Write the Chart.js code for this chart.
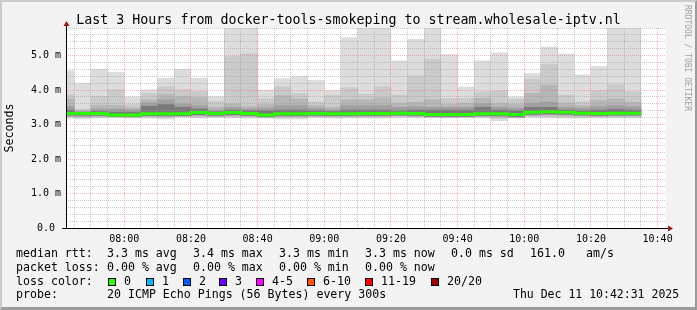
<!DOCTYPE html>
<html>
<head>
<meta charset="utf-8">
<script src="https://cdn.jsdelivr.net/npm/chart.js@4.4.1/dist/chart.umd.min.js"></script>
<style>
  html, body { margin: 0; padding: 0; background: #f3f3f3; }
  #wrap { position: relative; width: 697px; height: 310px; background: #f3f3f3; overflow: hidden;
          font-family: "DejaVu Sans Mono", monospace; color: #000; }
  #smoke { position: absolute; left: 0; top: 0; }
  .t { position: absolute; white-space: pre; line-height: 1; font-size: 11.6px; }
  .title { left: 0; width: 697px; text-align: center; top: 13px; font-size: 13.3px; }
  .box { position: absolute; top: 278px; width: 6px; height: 6px; border: 1px solid #000; }
  .mark { position: absolute; left: 683px; top: 5px; font-size: 8px; line-height: 1; color: #a0a0a0;
          writing-mode: vertical-rl; white-space: pre; }
  .frame { position: absolute; left: 0; top: 0; width: 697px; height: 310px; box-sizing: border-box;
           border-style: solid; border-width: 2px 2px 3px 2px;
           border-color: #cbcbcb #9c9c9c #9c9c9c #cbcbcb; pointer-events: none; }
</style>
</head>
<body>
<div id="wrap">
  <canvas id="smoke" width="697" height="310"></canvas>
  <div class="t title">Last 3 Hours from docker-tools-smokeping to stream.wholesale-iptv.nl</div>
  <div class="mark">RRDTOOL / TOBI OETIKER</div>

  <div class="t" style="left:16px;top:248px">median rtt:</div>
  <div class="t" style="left:107px;top:248px">3.3 ms avg</div>
  <div class="t" style="left:193px;top:248px">3.4 ms max</div>
  <div class="t" style="left:279px;top:248px">3.3 ms min</div>
  <div class="t" style="left:365px;top:248px">3.3 ms now</div>
  <div class="t" style="left:451px;top:248px">0.0 ms sd</div>
  <div class="t" style="left:530px;top:248px">161.0</div>
  <div class="t" style="left:586px;top:248px">am/s</div>

  <div class="t" style="left:16px;top:262px">packet loss:</div>
  <div class="t" style="left:107px;top:262px">0.00 % avg</div>
  <div class="t" style="left:193px;top:262px">0.00 % max</div>
  <div class="t" style="left:279px;top:262px">0.00 % min</div>
  <div class="t" style="left:365px;top:262px">0.00 % now</div>

  <div class="t" style="left:16px;top:276px">loss color:</div>
  <div id="lossRow"></div>

  <div class="t" style="left:16px;top:289px">probe:</div>
  <div class="t" style="left:107px;top:289px">20 ICMP Echo Pings (56 Bytes) every 300s</div>
  <div class="t" style="left:513px;top:289px;font-size:11.5px">Thu Dec 11 10:42:31 2025</div>

  <div class="frame"></div>
</div>
<script>
// 5 minute slots (start time of each interval)
const slots = ["07:40", "07:45", "07:50", "07:55", "08:00", "08:05", "08:10", "08:15", "08:20", "08:25",
  "08:30", "08:35", "08:40", "08:45", "08:50", "08:55", "09:00", "09:05", "09:10", "09:15",
  "09:20", "09:25", "09:30", "09:35", "09:40", "09:45", "09:50", "09:55", "10:00", "10:05",
  "10:10", "10:15", "10:20", "10:25", "10:30"];

// smoke bands, ms (outer band = min..max ping, inner bands closer to the median)
const maxPing = [4.56, 4.19, 4.60, 4.51, 3.80, 4.01, 4.34, 4.60, 4.34, 3.81, 6.30, 6.25, 4.00, 4.33, 4.39, 4.28, 3.99, 5.52,
  6.10, 6.40, 4.85, 5.47, 6.20, 5.03, 4.09, 4.85, 5.08, 3.80, 4.48, 5.25, 5.05, 4.44, 4.68, 6.15, 6.35];
const minPing = [3.19, 3.16, 3.19, 3.21, 3.19, 3.19, 3.16, 3.22, 3.19, 3.21, 3.19, 3.19, 3.19, 3.16, 3.16, 3.21, 3.19, 3.19,
  3.19, 3.19, 3.21, 3.21, 3.21, 3.19, 3.21, 3.19, 3.11, 3.19, 3.21, 3.19, 3.19, 3.19, 3.21, 3.21, 3.19];
const hi2 = [3.87, 3.45, 3.82, 4.01, 3.58, 3.90, 4.10, 4.01, 3.96, 3.67, 4.98, 5.06, 3.75, 4.10, 3.90, 3.66, 3.84, 4.07,
  3.88, 4.10, 3.86, 4.41, 4.89, 3.76, 3.76, 3.95, 3.98, 3.74, 4.32, 4.75, 3.86, 3.66, 3.98, 4.15, 3.95];
const lo2 = [3.22, 3.21, 3.22, 3.22, 3.21, 3.22, 3.21, 3.23, 3.22, 3.22, 3.22, 3.22, 3.21, 3.21, 3.21, 3.22, 3.22, 3.22,
  3.22, 3.22, 3.23, 3.23, 3.22, 3.21, 3.22, 3.22, 3.17, 3.21, 3.23, 3.23, 3.22, 3.22, 3.22, 3.22, 3.22];
const hi3 = [3.75, 3.41, 3.55, 3.55, 3.48, 3.72, 3.87, 3.82, 3.78, 3.50, 3.60, 3.52, 3.58, 3.84, 3.74, 3.55, 3.50, 3.72,
  3.72, 3.77, 3.62, 3.65, 3.72, 3.58, 3.62, 3.76, 3.61, 3.58, 3.90, 4.14, 3.62, 3.55, 3.70, 3.75, 3.65];
const lo3 = [3.24, 3.23, 3.24, 3.23, 3.22, 3.24, 3.23, 3.24, 3.25, 3.24, 3.25, 3.24, 3.22, 3.23, 3.23, 3.24, 3.24, 3.24,
  3.24, 3.24, 3.25, 3.24, 3.22, 3.22, 3.22, 3.24, 3.22, 3.21, 3.26, 3.27, 3.26, 3.25, 3.24, 3.24, 3.25];
const hi4 = [3.53, 3.38, 3.45, 3.45, 3.42, 3.63, 3.72, 3.60, 3.55, 3.42, 3.50, 3.45, 3.48, 3.55, 3.55, 3.47, 3.43, 3.55,
  3.55, 3.55, 3.50, 3.52, 3.50, 3.50, 3.50, 3.60, 3.50, 3.48, 3.62, 3.65, 3.50, 3.48, 3.52, 3.55, 3.52];
const lo4 = [3.25, 3.24, 3.25, 3.23, 3.23, 3.25, 3.24, 3.25, 3.27, 3.25, 3.27, 3.25, 3.22, 3.24, 3.24, 3.25, 3.25, 3.25,
  3.25, 3.25, 3.26, 3.25, 3.23, 3.23, 3.23, 3.25, 3.24, 3.22, 3.28, 3.29, 3.28, 3.26, 3.25, 3.26, 3.26];
const hi5 = [3.42, 3.35, 3.38, 3.36, 3.36, 3.53, 3.58, 3.50, 3.45, 3.37, 3.42, 3.40, 3.40, 3.42, 3.42, 3.40, 3.38, 3.42,
  3.42, 3.42, 3.40, 3.42, 3.42, 3.42, 3.42, 3.50, 3.42, 3.40, 3.50, 3.50, 3.42, 3.40, 3.42, 3.44, 3.42];
const lo5 = [3.27, 3.27, 3.27, 3.24, 3.24, 3.26, 3.26, 3.26, 3.29, 3.27, 3.29, 3.27, 3.23, 3.26, 3.26, 3.27, 3.26, 3.26,
  3.27, 3.27, 3.28, 3.27, 3.24, 3.24, 3.24, 3.26, 3.26, 3.23, 3.30, 3.31, 3.30, 3.28, 3.27, 3.28, 3.28];
const median = [3.32, 3.32, 3.32, 3.28, 3.28, 3.31, 3.31, 3.31, 3.35, 3.32, 3.35, 3.32, 3.28, 3.31, 3.31, 3.32, 3.31, 3.31,
  3.32, 3.32, 3.33, 3.32, 3.29, 3.29, 3.29, 3.31, 3.31, 3.29, 3.36, 3.37, 3.36, 3.33, 3.32, 3.33, 3.33];

// loss legend
const lossLabels = ["0", "1", "2", "3", "4-5", "6-10", "11-19", "20/20"];
const lossColors = ["#26ff00", "#00b8ff", "#0059ff", "#6a00ff", "#ff00ff", "#ff5500", "#ff0000", "#a10000"];
const lossX = [108, 146, 183, 219, 256, 307, 365, 431];

// window: last 3 hours up to 10:42:31
const viewStart = "07:42:31";
const viewEnd = "10:42:31";

const mins = s => { const p = s.split(":").map(Number); return p[0] * 60 + p[1] + (p[2] || 0) / 60; };
const hhmm = v => String(Math.floor(v / 60)).padStart(2, "0") + ":" + String(Math.round(v % 60)).padStart(2, "0");

const row = document.getElementById("lossRow");
lossLabels.forEach((lab, i) => {
  const b = document.createElement("div");
  b.className = "box";
  b.style.left = lossX[i] + "px";
  b.style.background = lossColors[i];
  row.appendChild(b);
  const t = document.createElement("div");
  t.className = "t";
  t.style.left = (lossX[i] + 16) + "px";
  t.style.top = "276px";
  t.textContent = lab;
  row.appendChild(t);
});

const MONO = "'DejaVu Sans Mono', monospace";
const bandColors = ["#dddddd", "#cacaca", "#b6b6b6", "#a0a0a0", "#7a7a7a"];
const bands = [[minPing, maxPing], [lo2, hi2], [lo3, hi3], [lo4, hi4], [lo5, hi5]];

const datasets = [{
  type: "line",
  data: slots.map((s, j) => ({ x: mins(s), y: median[j] }))
    .concat([{ x: mins(slots[slots.length - 1]) + 5, y: median[median.length - 1] }]),
  borderColor: lossColors[0],
  borderWidth: 3,
  pointRadius: 0,
  stepped: true,
  fill: false,
  borderCapStyle: "butt",
  order: 0,
  clip: 0
}];
bands.forEach(([lo, hi], i) => {
  datasets.push({
    type: "bar",
    data: slots.map((s, j) => ({ x: mins(s) + 2.5, y: [lo[j], hi[j]] })),
    backgroundColor: bandColors[i],
    borderWidth: 0,
    grouped: false,
    barPercentage: 1,
    categoryPercentage: 1,
    order: 10 - i,
    clip: 0
  });
});

const isMajor = (v, step) => Math.abs(v / step - Math.round(v / step)) < 1e-6;
const gridMajor = "rgba(255,80,80,0.42)";
const gridMinor = "rgba(150,150,150,0.5)";

const plotFrame = {
  id: "plotFrame",
  beforeDraw(chart) {
    const { ctx, chartArea: a } = chart;
    ctx.save();
    ctx.fillStyle = "#ffffff";
    ctx.fillRect(a.left, a.top, a.right - a.left, a.bottom - a.top);
    ctx.restore();
  },
  afterDraw(chart) {
    const { ctx, chartArea: a } = chart;
    ctx.save();
    ctx.strokeStyle = "#000";
    ctx.lineWidth = 1;
    ctx.beginPath();
    ctx.moveTo(a.left - 4, a.bottom + 0.5);
    ctx.lineTo(a.right + 3, a.bottom + 0.5);
    ctx.moveTo(a.left + 0.5, a.bottom + 1);
    ctx.lineTo(a.left + 0.5, a.top - 2);
    ctx.stroke();
    ctx.fillStyle = "#9b1c1c";
    ctx.beginPath();
    ctx.moveTo(a.left + 0.5, a.top - 7);
    ctx.lineTo(a.left - 2.5, a.top - 2);
    ctx.lineTo(a.left + 3.5, a.top - 2);
    ctx.closePath();
    ctx.fill();
    ctx.beginPath();
    ctx.moveTo(a.right + 7, a.bottom + 0.5);
    ctx.lineTo(a.right + 2, a.bottom - 2.5);
    ctx.lineTo(a.right + 2, a.bottom + 3.5);
    ctx.closePath();
    ctx.fill();
    ctx.restore();
  }
};

new Chart(document.getElementById("smoke").getContext("2d"), {
  type: "bar",
  data: { datasets },
  plugins: [plotFrame],
  options: {
    responsive: false,
    animation: false,
    events: [],
    layout: { padding: { top: 28, right: 31, left: 0, bottom: 0 } },
    plugins: { legend: { display: false }, tooltip: { enabled: false } },
    scales: {
      x: {
        type: "linear",
        min: mins(viewStart),
        max: mins(viewEnd),
        offset: false,
        afterFit: s => { s.height = 82; },
        afterBuildTicks: s => {
          const t = [];
          for (let v = Math.ceil(s.min / 5) * 5; v <= s.max; v += 5) t.push({ value: v });
          s.ticks = t;
        },
        grid: {
          offset: false,
          z: 1,
          drawTicks: false,
          color: c => isMajor(c.tick.value, 20) ? gridMajor : gridMinor
        },
        border: { display: false, dash: [1, 1] },
        ticks: {
          autoSkip: false,
          maxRotation: 0,
          padding: 5,
          color: "#000",
          font: { family: MONO, size: 10 },
          callback: v => isMajor(v, 20) ? hhmm(v) : ""
        }
      },
      y: {
        min: 0,
        max: 5.8,
        afterFit: s => { s.width = 66; },
        afterBuildTicks: s => {
          const t = [];
          for (let k = 0; k * 0.2 <= s.max + 1e-9; k++) t.push({ value: Math.round(k * 2) / 10 });
          s.ticks = t;
        },
        grid: {
          z: 1,
          drawTicks: false,
          color: c => isMajor(c.tick.value, 1) ? gridMajor : gridMinor
        },
        border: { display: false, dash: [1, 1] },
        ticks: {
          autoSkip: false,
          padding: 5,
          color: "#000",
          font: { family: MONO, size: 10 },
          callback: v => !isMajor(v, 1) ? "" : (v === 0 ? "0.0 " : v.toFixed(1) + " m")
        },
        title: {
          display: true,
          text: "Seconds",
          color: "#000",
          font: { family: MONO, size: 11.6 },
          padding: { top: 3, bottom: 0 }
        }
      }
    }
  }
});
</script>
</body>
</html>
